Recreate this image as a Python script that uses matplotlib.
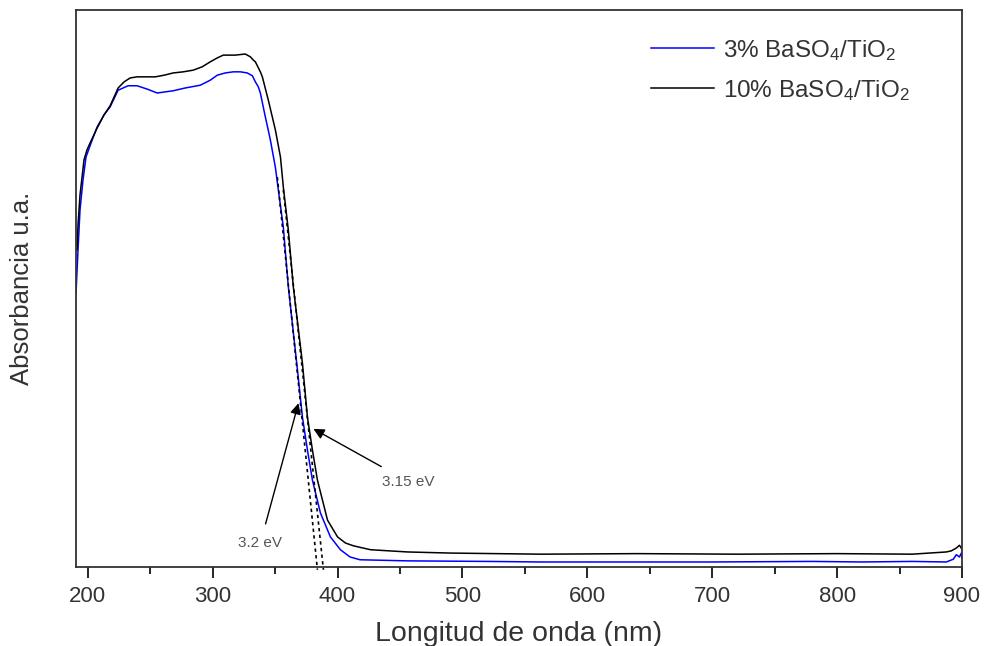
import matplotlib
matplotlib.use("Agg")
import matplotlib.pyplot as plt
from matplotlib.ticker import MultipleLocator

plt.rcParams['font.family'] = ['Liberation Sans', 'DejaVu Sans']
plt.rcParams['mathtext.fontset'] = 'custom'
plt.rcParams['mathtext.rm'] = 'Liberation Sans'
plt.rcParams['mathtext.it'] = 'Liberation Sans:italic'

# 3% BaSO4/TiO2 (blue)
wl_3 = [190.6, 192.2, 193.8, 196.2, 198.6, 202.6, 207.5, 213.1, 217.9, 224.3,
        232.3, 239.5, 247.6, 255.6, 262.0, 268.4, 278.0, 290.1, 298.1, 303.7,
        310.1, 316.5, 322.2, 327.7, 331.8, 334.2, 336.6, 338.2, 342.2, 346.2,
        350.2, 352.6, 356.6, 360.6, 367.9, 371.9, 375.9, 379.9, 386.3, 394.3,
        402.3, 410.0, 418.0, 456.0, 520.0, 562.7, 620.0, 700.0, 780.0, 820.0,
        860.0, 887.5, 893.1, 895.5, 898.0, 899.5, 900.0]
abs_3 = [0.492, 0.569, 0.641, 0.695, 0.736, 0.761, 0.790, 0.812, 0.826, 0.856,
         0.864, 0.864, 0.858, 0.851, 0.853, 0.855, 0.860, 0.865, 0.874, 0.883,
         0.887, 0.889, 0.889, 0.887, 0.882, 0.871, 0.862, 0.851, 0.808, 0.767,
         0.718, 0.677, 0.610, 0.503, 0.354, 0.269, 0.210, 0.156, 0.097, 0.054,
         0.031, 0.018, 0.013, 0.011, 0.010, 0.009, 0.009, 0.009, 0.010, 0.009,
         0.010, 0.009, 0.014, 0.022, 0.018, 0.025, 0.016]

# 10% BaSO4/TiO2 (black)
wl_10 = [191.4, 192.2, 193.8, 197.0, 199.4, 201.8, 207.5, 213.1, 217.9, 224.3,
         229.1, 233.9, 239.5, 246.8, 254.0, 261.2, 268.4, 276.4, 284.4, 291.6,
         298.1, 303.7, 308.5, 318.1, 326.1, 330.2, 332.6, 334.2, 338.2, 339.8,
         344.6, 350.2, 354.3, 356.6, 360.6, 364.6, 371.9, 375.9, 379.9, 383.9,
         392.0, 400.0, 406.4, 412.8, 426.4, 456.0, 490.5, 562.7, 640.0, 720.0,
         800.0, 860.0, 887.5, 891.5, 895.5, 898.0, 900.0]
abs_10 = [0.569, 0.614, 0.668, 0.731, 0.749, 0.761, 0.788, 0.812, 0.828, 0.860,
          0.871, 0.878, 0.880, 0.880, 0.880, 0.883, 0.887, 0.889, 0.892, 0.898,
          0.907, 0.914, 0.919, 0.919, 0.921, 0.916, 0.910, 0.907, 0.889, 0.880,
          0.838, 0.785, 0.736, 0.682, 0.605, 0.503, 0.366, 0.269, 0.210, 0.156,
          0.084, 0.054, 0.043, 0.038, 0.031, 0.027, 0.025, 0.023, 0.024, 0.023,
          0.024, 0.023, 0.027, 0.029, 0.034, 0.039, 0.032]

# tangent lines for the band gap
tan_3_x = [351.8, 383.9]
tan_3_y = [0.700, -0.005]
tan_10_x = [356.6, 388.7]
tan_10_y = [0.677, -0.005]

fig = plt.figure(figsize=(9.84, 6.46), dpi=100)
ax = fig.add_axes([0.077, 0.1223, 0.9006, 0.8622])

ax.plot(wl_3, abs_3, color='#0000ff', lw=1.1, label='3% BaSO$_4$/TiO$_2$')
ax.plot(wl_10, abs_10, color='black', lw=1.1, label='10% BaSO$_4$/TiO$_2$')
ax.plot(tan_3_x, tan_3_y, color='black', ls=(0, (2, 2)), lw=1.2, clip_on=False)
ax.plot(tan_10_x, tan_10_y, color='black', ls=(0, (2, 2)), lw=1.2, clip_on=False)

ax.annotate('3.2 eV', xy=(368.7, 0.294), xytext=(338.2, 0.043),
            ha='center', va='center', fontsize=11, color='#555555',
            arrowprops=dict(arrowstyle='-|>', color='black', lw=1.0,
                            mutation_scale=16, shrinkA=7, shrinkB=0))
ax.annotate('3.15 eV', xy=(380.7, 0.248), xytext=(456.9, 0.153),
            ha='center', va='center', fontsize=11, color='#555555',
            arrowprops=dict(arrowstyle='-|>', color='black', lw=1.0,
                            mutation_scale=16, shrinkA=8, shrinkB=0))

ax.set_xlim(190.4, 900)
ax.set_ylim(0, 1.0)
ax.xaxis.set_major_locator(MultipleLocator(100))
ax.xaxis.set_minor_locator(MultipleLocator(50))
ax.tick_params(axis='x', which='major', direction='out', length=8, width=1.2,
               labelsize=16, labelcolor='#333333', pad=6)
ax.tick_params(axis='x', which='minor', direction='out', length=5, width=1.2)
ax.set_yticks([])
for s in ax.spines.values():
    s.set_linewidth(1.3)
    s.set_color('#333333')

ax.set_xlabel('Longitud de onda (nm)', fontsize=20.5, color='#333333', labelpad=10)
ax.set_ylabel('Absorbancia u.a.', fontsize=18.5, color='#333333', labelpad=30)

ax.legend(loc='upper left', bbox_to_anchor=(651 / 984, 1 - 38 / 646),
          bbox_transform=fig.transFigure, frameon=False, fontsize=17.5,
          handlelength=2.6, handletextpad=0.35, labelspacing=0.62,
          borderpad=0, borderaxespad=0, labelcolor='#333333')

fig.savefig('out.png', dpi=100)
